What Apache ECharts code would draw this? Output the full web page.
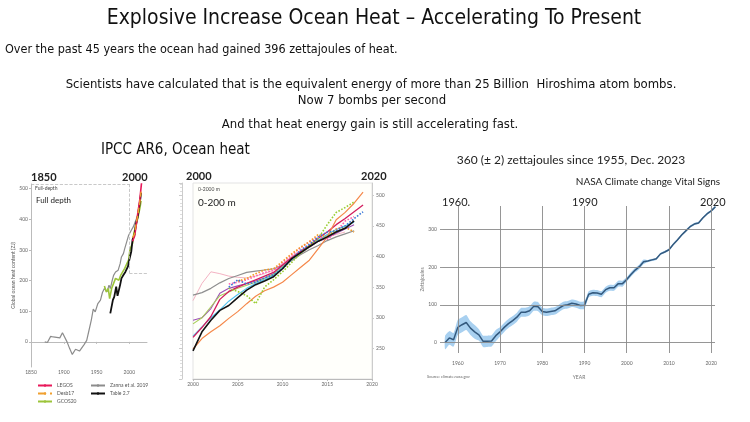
<!DOCTYPE html>
<html>
<head>
<meta charset="utf-8">
<script src="https://cdn.jsdelivr.net/npm/echarts@6/dist/echarts.min.js"></script>
<style>
  html, body { margin: 0; padding: 0; background: #fff; }
  #main { width: 750px; height: 422px; }
</style>
</head>
<body>
<div id="main"></div>
<script>
// ---- left panel: full depth (IPCC AR6) ----
var zannaYears = [1871,1875,1880,1884,1887,1894,1898,1901,1905,1909,1913,1918,1920,1924,1927,1931,1935,1938,1942,1945,1948,1952,1956,1959,1962,1966,1969,1971,1974,1976,1979,1983,1986,1988,1991,1993,1996,1999,2003,2006,2010,2012,2015,2017];
var zannaVals  = [0,-2,18,16,14,13,30,27,0,-22,-41,-24,-27,-30,-24,-9,5,33,71,107,98,125,136,161,174,163,185,174,201,217,228,234,255,277,288,304,326,348,364,375,397,408,430,452];
var gcosYears  = [1962,1965,1968,1970,1973,1976,1979,1982,1984,1987,1990,1993,1996,1999,2001,2005,2007,2010,2013,2016,2018];
var gcosVals   = [182,163,174,141,174,180,207,212,201,218,223,240,246,268,301,322,355,377,405,435,460];
var tableYears = [1971,1973,1975,1977,1980,1982,1984,1986,1988,1991,1994,1996,1998,2000,2003,2005,2008,2010,2013,2016,2018];
var tableVals  = [93,98,137,147,180,150,147,186,207,218,228,223,246,268,295,334,350,383,410,454,486];
var legosYears = [2005,2008,2010,2013,2016,2018,2019];
var legosVals  = [328,345,372,421,464,505,525];
var desbYears  = [2005,2008,2010,2013,2016,2018];
var desbVals   = [340,352,380,415,455,490];
var leftTicks  = [0,100,200,300,400,500];

// ---- middle panel: 0-200 m ----
var midYears   = [2000,2001,2002,2003,2004,2005,2006,2007,2008,2009,2010,2011,2012,2013,2014,2015,2016,2017,2018,2019];
var midBlack   = [246,277,296,312,320,333,345,354,360,367,380,396,406,416,425,432,440,446,458,null];
var midOrange  = [249,266,277,287,299,310,323,335,344,350,358,370,382,394,413,432,460,472,487,505];
var midGrey    = [337,341,348,357,364,369,374,376,378,380,385,393,403,411,418,426,432,437,442,null];
var midPink    = [328,356,375,372,368,366,365,368,372,378,388,400,410,418,425,432,436,440,null,null];
var midPurple  = [296,300,315,340,348,352,356,360,365,372,385,396,405,415,425,430,438,445,452,null];
var midCrimson = [268,284,302,330,343,350,356,362,368,374,386,398,408,418,430,440,452,462,473,484];
var midLime    = [290,300,318,336,342,348,353,358,364,371,383,395,405,416,426,434,441,447,null,null];
var midSky     = [270,285,300,313,327,338,348,356,362,369,382,395,406,417,427,436,444,450,456,null];
var dotGreen   = [null,null,null,null,348,343,336,323,350,362,375,390,405,418,430,452,472,480,489,null];
var dotBlue    = [null,null,null,null,350,362,355,358,365,370,380,395,410,420,432,440,442,450,462,473];
var dotPink    = [null,null,null,null,355,358,362,368,374,377,390,402,414,424,432,428,440,458,465,null];
var dotOrange  = [null,null,null,null,null,360,364,372,378,380,392,404,415,424,436,432,445,448,440,null];

// ---- right panel: NASA ocean heat content ----
var nasaYears = [1957,1958,1959,1960,1961,1962,1963,1964,1965,1966,1967,1968,1969,1970,1971,1972,1973,1974,1975,1976,1977,1978,1979,1980,1981,1982,1983,1984,1985,1986,1987,1988,1989,1990,1991,1992,1993,1994,1995,1996,1997,1998,1999,2000,2001,2002,2003,2004,2005,2006,2007,2008,2009,2010,2011,2012,2013,2014,2015,2016,2017,2018,2019,2020,2021];
var nasaVals  = [0,12,7,40,47,53,38,28,20,3,3,4,18,28,40,50,58,67,80,80,84,96,95,82,80,82,84,91,98,100,104,102,98,99,128,132,131,128,140,145,145,156,156,167,180,192,201,214,216,219,222,235,240,246,260,272,285,296,307,314,317,330,341,349,360];
var nasaErr   = [18,18,18,20,20,20,18,18,15,15,15,15,15,12,12,12,12,12,12,12,12,12,12,10,10,10,10,10,10,10,10,10,10,10,8,8,8,8,8,8,8,8,8,6,6,6,6,6,3,3,3,3,3,3,3,3,3,3,3,3,3,3,3,3,3];
var nasaTicks = [0,100,200,300];
var nasaDecades = [1960,1970,1980,1990,2000,2010,2020];

function pairs(xs, ys) {
  return xs.map(function (x, i) { return [x, ys[i]]; });
}

var narrow = '"Liberation Sans Narrow", "DejaVu Sans Condensed", sans-serif';
var plain = 'Lato, "Liberation Sans", sans-serif';

var chart = echarts.init(document.getElementById('main'));

function leftLine(name, xs, ys, color, width, type) {
  return {
    name: name, type: 'line', xAxisIndex: 0, yAxisIndex: 0,
    data: pairs(xs, ys), symbol: 'none', smooth: false,
    lineStyle: { color: color, width: width, type: type || 'solid' },
    itemStyle: { color: color }, z: 3
  };
}

function midLine(vals, color, type, width) {
  return {
    type: 'line', xAxisIndex: 1, yAxisIndex: 1,
    data: pairs(midYears, vals), symbol: 'none', connectNulls: false,
    lineStyle: { color: color, width: width || 1.1, type: type || 'solid' },
    z: 3
  };
}

var plainNum = function (v) { return String(v); };
var smallAxis = { color: '#666', fontSize: 5, fontFamily: plain, formatter: plainNum };

option = {
  backgroundColor: '#ffffff',
  animation: false,
  grid: [
    { left: 31, top: 184, width: 116, height: 183 },
    { left: 193, top: 183, width: 179, height: 196, show: true, borderColor: '#e3e3e3', backgroundColor: '#fffffb' },
    { left: 443, top: 206, width: 272, height: 147 }
  ],
  legend: [
    {
      data: ['LEGOS', 'Desb17', 'GCOS20'], orient: 'vertical', left: 32, top: 378,
      itemWidth: 14, itemHeight: 3, itemGap: 3,
      textStyle: { fontSize: 5, color: '#555', fontFamily: plain }
    },
    {
      data: ['Zanna et al. 2019', 'Table 2.7'], orient: 'vertical', left: 85, top: 378,
      itemWidth: 14, itemHeight: 3, itemGap: 3,
      textStyle: { fontSize: 5, color: '#555', fontFamily: plain }
    }
  ],
  xAxis: [
    {
      gridIndex: 0, type: 'value', min: 1850, max: 2027, interval: 50,
      axisLine: { lineStyle: { color: '#bbb' } },
      axisTick: { length: 2, lineStyle: { color: '#bbb' } },
      axisLabel: Object.assign({ showMaxLabel: false, margin: 3 }, smallAxis),
      splitLine: { show: false }
    },
    {
      gridIndex: 1, type: 'value', min: 2000, max: 2020, interval: 5,
      axisLine: { lineStyle: { color: '#bbb' } },
      axisTick: { length: 2, lineStyle: { color: '#bbb' } },
      axisLabel: Object.assign({ margin: 3 }, smallAxis),
      splitLine: { show: false }
    },
    {
      gridIndex: 2, type: 'value', min: 1956.5, max: 2020.9,
      name: 'YEAR', nameLocation: 'middle', nameGap: 22,
      nameTextStyle: { color: '#777', fontSize: 5, fontFamily: plain },
      axisLine: { show: false },
      axisTick: { show: false },
      axisLabel: Object.assign({ customValues: nasaDecades, margin: 8 }, smallAxis),
      splitLine: { show: false }
    }
  ],
  yAxis: [
    {
      gridIndex: 0, type: 'value', min: -82, max: 515,
      name: 'Global ocean heat content (ZJ)', nameLocation: 'middle', nameGap: 14, nameRotate: 90,
      nameTextStyle: { color: '#555', fontSize: 5, fontFamily: plain },
      axisLine: { show: true, lineStyle: { color: '#bbb' } },
      axisTick: { show: true, length: 2, customValues: leftTicks, lineStyle: { color: '#bbb' } },
      axisLabel: Object.assign({ customValues: leftTicks, margin: 3 }, smallAxis),
      splitLine: { show: false }
    },
    {
      gridIndex: 1, type: 'value', position: 'right', min: 200, max: 520, interval: 50,
      axisLine: { show: true, lineStyle: { color: '#ccc' } },
      axisTick: { show: true, length: 2, lineStyle: { color: '#ccc' } },
      axisLabel: Object.assign({ showMinLabel: false, showMaxLabel: false, margin: 4 }, smallAxis),
      splitLine: { show: false }
    },
    {
      gridIndex: 1, type: 'value', position: 'left', offset: 11, min: 200, max: 520, interval: 50,
      axisLine: { show: true, lineStyle: { color: '#ccc' } },
      axisTick: { show: true, length: 3, lineStyle: { color: '#ccc' } },
      minorTick: { show: true, splitNumber: 8, length: 2, lineStyle: { color: '#ddd' } },
      axisLabel: { show: false },
      splitLine: { show: false }
    },
    {
      gridIndex: 2, type: 'value', min: -28, max: 362,
      name: 'Zettajoules', nameLocation: 'middle', nameGap: 18, nameRotate: 90,
      nameTextStyle: { color: '#777', fontSize: 5, fontFamily: plain },
      axisLine: { show: false },
      axisTick: { show: true, length: 3, customValues: nasaTicks, lineStyle: { color: '#999' } },
      axisLabel: Object.assign({ customValues: nasaTicks, margin: 6 }, smallAxis),
      splitLine: { show: false }
    }
  ],
  graphic: [
    { type: 'text', style: { text: 'Explosive Increase Ocean Heat – Accelerating To Present', x: 374, y: 19, textAlign: 'center', textVerticalAlign: 'middle', font: '21px ' + narrow, fill: '#111' } },
    { type: 'text', style: { text: 'Over the past 45 years the ocean had gained 396 zettajoules of heat.', x: 5, y: 50, textVerticalAlign: 'middle', font: '12.5px ' + narrow, fill: '#111' } },
    { type: 'text', style: { text: 'Scientists have calculated that is the equivalent energy of more than 25 Billion  Hiroshima atom bombs.', x: 371, y: 85, textAlign: 'center', textVerticalAlign: 'middle', font: '13px ' + narrow, fill: '#111' } },
    { type: 'text', style: { text: 'Now 7 bombs per second', x: 372, y: 101, textAlign: 'center', textVerticalAlign: 'middle', font: '13px ' + narrow, fill: '#111' } },
    { type: 'text', style: { text: 'And that heat energy gain is still accelerating fast.', x: 370, y: 125, textAlign: 'center', textVerticalAlign: 'middle', font: '13px ' + narrow, fill: '#111' } },
    { type: 'text', style: { text: 'IPCC AR6, Ocean heat', x: 101, y: 150, textVerticalAlign: 'middle', font: '15px ' + narrow, fill: '#111' } },
    { type: 'text', style: { text: '360 (± 2) zettajoules since 1955, Dec. 2023', x: 571, y: 160, textAlign: 'center', textVerticalAlign: 'middle', font: '12px ' + plain, fill: '#222' } },
    { type: 'text', style: { text: 'NASA Climate change Vital Signs', x: 648, y: 182, textAlign: 'center', textVerticalAlign: 'middle', font: '10px ' + plain, fill: '#222' } },
    // panel year headers
    { type: 'text', style: { text: '1850', x: 31, y: 177, textVerticalAlign: 'middle', font: 'bold 11px ' + plain, fill: '#222' } },
    { type: 'text', style: { text: '2000', x: 122, y: 177, textVerticalAlign: 'middle', font: 'bold 11px ' + plain, fill: '#222' } },
    { type: 'text', style: { text: '2000', x: 186, y: 176, textVerticalAlign: 'middle', font: 'bold 11px ' + plain, fill: '#222' } },
    { type: 'text', style: { text: '2020', x: 361, y: 176, textVerticalAlign: 'middle', font: 'bold 11px ' + plain, fill: '#222' } },
    { type: 'text', style: { text: '1960.', x: 442, y: 202, textVerticalAlign: 'middle', font: '11px ' + plain, fill: '#222' } },
    { type: 'text', style: { text: '1990', x: 572, y: 202, textVerticalAlign: 'middle', font: '11px ' + plain, fill: '#222' } },
    { type: 'text', style: { text: '2020', x: 700, y: 202, textVerticalAlign: 'middle', font: '11px ' + plain, fill: '#222' } },
    // panel inner labels
    { type: 'text', style: { text: 'Full-depth', x: 35, y: 188, textVerticalAlign: 'middle', font: '5px ' + plain, fill: '#444' } },
    { type: 'text', style: { text: 'Full depth', x: 36, y: 200, textVerticalAlign: 'middle', font: '8px ' + plain, fill: '#222' } },
    { type: 'text', style: { text: '0-2000 m', x: 198, y: 189, textVerticalAlign: 'middle', font: '5px ' + plain, fill: '#444' } },
    { type: 'text', style: { text: '0-200 m', x: 198, y: 203, textVerticalAlign: 'middle', font: '10px ' + plain, fill: '#222' } },
    { type: 'text', style: { text: 'Source: climate.nasa.gov', x: 427, y: 377, textVerticalAlign: 'middle', font: '4px ' + plain, fill: '#666' } }
  ],
  series: [
    // left panel
    Object.assign(leftLine('Zanna et al. 2019', zannaYears, zannaVals, '#8c8c8c', 1.2), {
      markLine: {
        silent: true, symbol: 'none', label: { show: false },
        lineStyle: { color: '#bbb', type: 'dashed', width: 0.8 },
        data: [
          [{ coord: [1850, 515] }, { coord: [2000, 515] }],
          [{ coord: [2000, 515] }, { coord: [2000, 225] }],
          [{ coord: [2000, 225] }, { coord: [2027, 225] }]
        ]
      }
    }),
    leftLine('GCOS20', gcosYears, gcosVals, '#9cc43a', 1.6),
    leftLine('Table 2.7', tableYears, tableVals, '#111111', 1.8),
    leftLine('LEGOS', legosYears, legosVals, '#e8195a', 1.6),
    leftLine('Desb17', desbYears, desbVals, '#f0a030', 1.4, 'dashed'),
    // middle panel
    midLine(midPink, '#f4b3c3', 'solid', 1),
    midLine(midGrey, '#8f8f8f', 'solid', 1.2),
    midLine(midPurple, '#9b4fb5'),
    midLine(midLime, '#a9cf5a'),
    midLine(midSky, '#4ec0ee'),
    midLine(midCrimson, '#d21d5e', 'solid', 1.3),
    midLine(midOrange, '#f5884a', 'solid', 1.2),
    midLine(dotGreen, '#9acd32', 'dotted', 1.6),
    midLine(dotPink, '#ff5fae', 'dotted', 1.6),
    midLine(dotOrange, '#f59a23', 'dotted', 1.6),
    midLine(dotBlue, '#3a78d8', 'dotted', 1.6),
    midLine(midBlack, '#111111', 'solid', 1.6),
    // right panel: uncertainty band drawn as one polygon through the axis scales
    {
      type: 'custom', xAxisIndex: 2, yAxisIndex: 3, z: 2,
      data: nasaYears.map(function (y, i) { return [y, nasaVals[i] - nasaErr[i], nasaVals[i] + nasaErr[i]]; }),
      encode: { x: 0, y: [1, 2] },
      renderItem: function (params, api) {
        if (params.dataIndex !== 0) return null;
        var upper = [], lower = [];
        for (var i = 0; i < nasaYears.length; i++) {
          upper.push(api.coord([nasaYears[i], nasaVals[i] + nasaErr[i]]));
          lower.push(api.coord([nasaYears[i], nasaVals[i] - nasaErr[i]]));
        }
        return {
          type: 'polygon',
          shape: { points: upper.concat(lower.reverse()), smooth: 0.2 },
          style: { fill: '#a8d0f0' }
        };
      },
      markLine: {
        silent: true, symbol: 'none', label: { show: false },
        lineStyle: { color: '#8a8a8a', type: 'solid', width: 0.9 },
        data: nasaDecades.map(function (y) { return { xAxis: y }; })
          .concat(nasaTicks.map(function (v) { return { yAxis: v }; }))
      }
    },
    {
      type: 'line', xAxisIndex: 2, yAxisIndex: 3, symbol: 'none',
      data: pairs(nasaYears, nasaVals),
      lineStyle: { color: '#33597e', width: 1.5 }, z: 4
    }
  ]
};
chart.setOption(option);
</script>
</body>
</html>
